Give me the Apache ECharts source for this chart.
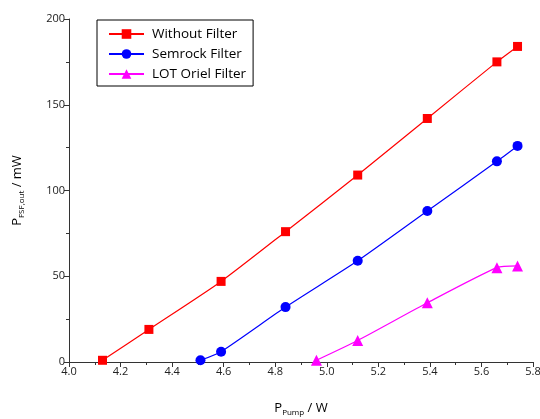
<!DOCTYPE html>
<html lang="en">
<head>
    <meta charset="UTF-8">
    <title>FSF output power</title>
    <script type="text/javascript" src="https://cdn.jsdelivr.net/npm/echarts@6/dist/echarts.min.js"></script>
</head>
<body style="margin:0">
<div id="main" style="width: 540px;height:419px;"></div>
<script>
    // pump power (W) for each series
    var pumpWithout = [4.13, 4.31, 4.59, 4.84, 5.12, 5.39, 5.66, 5.74];
    var pumpSemrock = [4.51, 4.59, 4.84, 5.12, 5.39, 5.66, 5.74];
    var pumpLot = [4.96, 5.12, 5.39, 5.66, 5.74];
    // FSF output power (mW)
    var withoutFilter = [1, 19, 47, 76, 109, 142, 175, 184];
    var semrockFilter = [1, 6, 32, 59, 88, 117, 126];
    var lotFilter = [1, 12.5, 34.5, 55, 56];
    var names = ['Without Filter', 'Semrock Filter', 'LOT Oriel Filter'];

    function pairs(xs, ys) {
        var out = [];
        for (var i = 0; i < xs.length; i++) {
            out.push([xs[i], ys[i]]);
        }
        return out;
    }

    var font = 'Open Sans';
    var axisCommon = {
        axisLine: {show: true, onZero: false, lineStyle: {color: '#333', width: 1}},
        axisTick: {show: true, inside: false, length: 5, lineStyle: {color: '#333'}},
        minorTick: {show: true, splitNumber: 2, length: 3, lineStyle: {color: '#333'}},
        splitLine: {show: false},
        axisLabel: {color: '#222', fontFamily: font, fontSize: 11, margin: 4}
    };

    var option = {
        animation: false,
        grid: {left: 69, right: 7, top: 19, bottom: 57, outerBoundsMode: 'none', containLabel: false},
        legend: {
            orient: 'vertical',
            left: 97,
            top: 20,
            padding: [7, 7, 5, 11],
            itemWidth: 35,
            itemHeight: 12,
            itemGap: 6,
            borderColor: '#000',
            borderWidth: 1,
            backgroundColor: '#fff',
            textStyle: {fontFamily: font, fontSize: 13.5, color: '#000', padding: [0, 0, 0, 3]},
            data: names
        },
        xAxis: Object.assign({}, axisCommon, {
            type: 'value',
            min: 4.0,
            max: 5.8,
            interval: 0.2,
            name: '{a|P}{b|Pump}{a| / W}',
            nameLocation: 'middle',
            nameGap: 38,
            nameTextStyle: {
                rich: {
                    a: {fontFamily: font, fontSize: 13, color: '#000'},
                    b: {fontFamily: font, fontSize: 8, color: '#000', padding: [9, 0, 0, 0]}
                }
            },
            axisLabel: Object.assign({}, axisCommon.axisLabel, {
                formatter: function (v) { return v.toFixed(1); }
            })
        }),
        yAxis: Object.assign({}, axisCommon, {
            type: 'value',
            min: 0,
            max: 200,
            interval: 50,
            name: '{a|P}{b|FSF,out}{a| / mW}',
            nameLocation: 'middle',
            nameGap: 43,
            nameTextStyle: {
                rich: {
                    a: {fontFamily: font, fontSize: 13, color: '#000'},
                    b: {fontFamily: font, fontSize: 8, color: '#000', padding: [9, 0, 0, 0]}
                }
            }
        }),
        series: [
            {
                name: names[0],
                type: 'line',
                smooth: 0.2,
                symbol: 'rect',
                symbolSize: 9,
                color: '#ff0000',
                lineStyle: {width: 1.2},
                data: pairs(pumpWithout, withoutFilter)
            },
            {
                name: names[1],
                type: 'line',
                smooth: 0.2,
                symbol: 'circle',
                symbolSize: 10,
                color: '#0000ff',
                lineStyle: {width: 1.2},
                data: pairs(pumpSemrock, semrockFilter)
            },
            {
                name: names[2],
                type: 'line',
                smooth: 0.2,
                symbol: 'triangle',
                symbolSize: 11,
                color: '#ff00ff',
                lineStyle: {width: 1.2},
                data: pairs(pumpLot, lotFilter)
            }
        ]
    };

    var myChart = echarts.init(document.getElementById('main'));
    myChart.setOption(option);
</script>
</body>
</html>
